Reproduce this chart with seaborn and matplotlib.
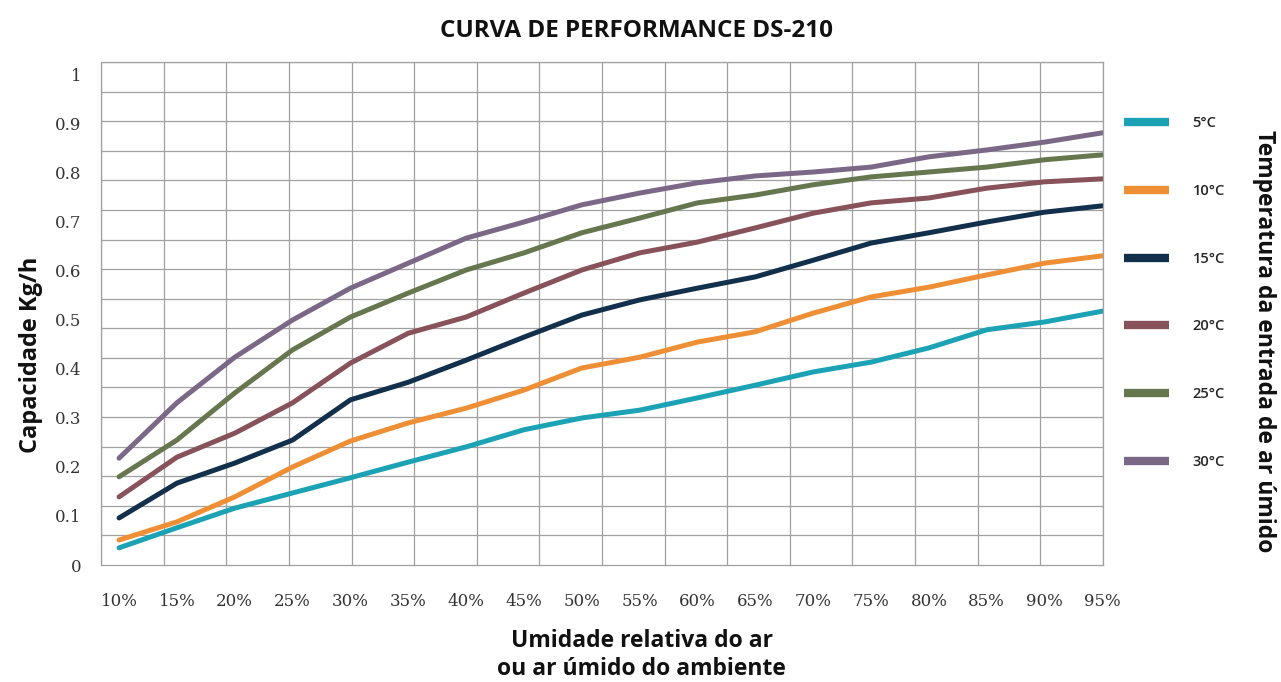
import numpy as np
import pandas as pd
import matplotlib
matplotlib.use('Agg')
import matplotlib.pyplot as plt
import seaborn as sns

# relative humidity (%) and capacity (kg/h)
umidade = [10, 15, 20, 25, 30, 35, 40, 45, 50, 55, 60, 65, 70, 75, 80, 85, 90, 95]
cap_5 = [0.035, 0.076, 0.116, 0.147, 0.178, 0.210, 0.241, 0.276, 0.300, 0.316,
         0.341, 0.367, 0.394, 0.414, 0.443, 0.480, 0.496, 0.518]
cap_10 = [0.051, 0.088, 0.139, 0.200, 0.253, 0.290, 0.320, 0.357, 0.402, 0.424,
          0.455, 0.476, 0.514, 0.547, 0.567, 0.592, 0.616, 0.631]
cap_15 = [0.096, 0.167, 0.208, 0.255, 0.337, 0.373, 0.418, 0.465, 0.510, 0.541,
          0.565, 0.588, 0.622, 0.657, 0.678, 0.700, 0.720, 0.733]
cap_20 = [0.139, 0.220, 0.269, 0.331, 0.412, 0.473, 0.506, 0.555, 0.602, 0.637,
          0.659, 0.688, 0.718, 0.739, 0.749, 0.769, 0.782, 0.788]
cap_25 = [0.180, 0.255, 0.351, 0.439, 0.506, 0.555, 0.602, 0.637, 0.678, 0.708,
          0.739, 0.755, 0.776, 0.792, 0.802, 0.812, 0.827, 0.837]
cap_30 = [0.218, 0.331, 0.424, 0.500, 0.565, 0.616, 0.667, 0.700, 0.735, 0.759,
          0.780, 0.794, 0.802, 0.812, 0.833, 0.847, 0.863, 0.882]

temps = ['5°C', '10°C', '15°C', '20°C', '25°C', '30°C']
cores = ['#1ba3b5', '#ef8f35', '#12304b', '#87525a', '#66774f', '#7b6886']
y_ticks = [0, 0.1, 0.2, 0.3, 0.4, 0.5, 0.6, 0.7, 0.8, 0.9, 1]
y_labels = ['0', '0.1', '0.2', '0.3', '0.4', '0.5', '0.6', '0.7', '0.8', '0.9', '1']

series = [cap_5, cap_10, cap_15, cap_20, cap_25, cap_30]
df = pd.concat([pd.DataFrame({'umidade': umidade, 'cap': s, 'temp': t})
                for s, t in zip(series, temps)], ignore_index=True)

sns.set_style('white')
plt.rcParams['font.family'] = ['Open Sans', 'DejaVu Sans']

fig = plt.figure(figsize=(12.81, 6.82), dpi=100)
ax = fig.add_axes([101 / 1281, 117 / 682, 1002 / 1281, 503 / 682])

sns.lineplot(data=df, x='umidade', y='cap', hue='temp', hue_order=temps,
             palette=dict(zip(temps, cores)), linewidth=3.6, ax=ax)
for ln in ax.lines:
    ln.set_solid_joinstyle('round')

xmin, xmax = 8.44, 95.05
ymin, ymax = 0, 1.0265
ax.set_xlim(xmin, xmax)
ax.set_ylim(ymin, ymax)

# grid does not line up with the labels in the original
ax.set_xticks(np.linspace(xmin, xmax, 17), minor=True)
ax.set_yticks(np.linspace(ymin, ymax, 18), minor=True)
ax.grid(False)
ax.grid(which='minor', color='#a0a0a0', linewidth=0.9)
for sp in ax.spines.values():
    sp.set_color('#a0a0a0')
    sp.set_linewidth(0.9)

ax.set_xticks(umidade)
ax.set_xticklabels([f'{u}%' for u in umidade], family='DejaVu Serif', fontsize=12, color='#333333')
ax.set_yticks(y_ticks)
ax.set_yticklabels(y_labels, family='DejaVu Serif', fontsize=12, color='#333333')
ax.tick_params(which='both', length=0)
ax.tick_params(axis='x', pad=20)
ax.tick_params(axis='y', pad=14)

ax.set_xlabel('')
ax.set_ylabel('')
fig.text(0.497, 0.955, 'CURVA DE PERFORMANCE DS-210', ha='center', va='center',
         fontsize=17.5, fontweight='bold', color='#111111')
fig.text(0.501, 0.04, 'Umidade relativa do ar\nou ar úmido do ambiente', ha='center', va='center',
         fontsize=16.5, fontweight='bold', color='#111111', linespacing=1.2)
fig.text(0.024, 0.48, 'Capacidade Kg/h', rotation=90, ha='center', va='center',
         fontsize=17, fontweight='bold', color='#111111')
fig.text(0.987, 0.5, 'Temperatura da entrada de ar úmido', rotation=-90, ha='center', va='center',
         fontsize=16.5, fontweight='bold', color='#111111')

handles, labels = ax.get_legend_handles_labels()
ax.get_legend().remove()
leg = fig.legend(handles, labels, loc='upper left', bbox_to_anchor=(1124 / 1281, 1 - 116 / 682),
                 frameon=False, borderpad=0, borderaxespad=0,
                 prop={'size': 10.5, 'weight': 'semibold'},
                 handlelength=3.1, handletextpad=1.6, labelspacing=3.69)
for ln in leg.get_lines():
    ln.set_linewidth(6)
    ln.set_solid_capstyle('butt')

fig.savefig('out.png', dpi=100)
